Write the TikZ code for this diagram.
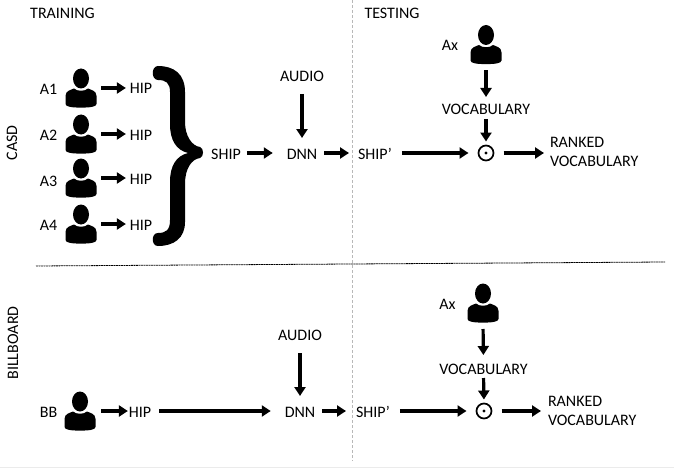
\documentclass[tikz,border=0pt]{standalone}
\usepackage{fontspec}
\setmainfont{Carlito}
\usetikzlibrary{arrows.meta}
\tikzset{
  lbl/.style={inner sep=0pt,outer sep=0pt,text height=12pt,text depth=0pt,font=\fontsize{16pt}{18pt}\selectfont},
  ranked/.style={inner sep=0pt,outer sep=0pt,align=left,anchor=west,font=\fontsize{16pt}{19pt}\selectfont},
  arr/.style={line width=3.2pt,-{Triangle[length=9pt,width=11pt]}},
  odot/.style={circle,draw,line width=1.7pt,minimum size=15pt,inner sep=0pt,outer sep=0pt,
     path picture={\fill (path picture bounding box.center) circle (1.7pt);}},
  person/.style={minimum width=32pt,minimum height=40pt,inner sep=0pt,outer sep=0pt,
    path picture={
      \begin{scope}[shift={(path picture bounding box.center)}]
        \fill (0pt,9.5pt) ellipse [x radius=8pt,y radius=10pt];
        \fill (-15.5pt,-8pt) .. controls (-15.5pt,-2.5pt) and (-10pt,-2pt) .. (-7pt,-0.5pt)
          .. controls (-4pt,-3.5pt) and (4pt,-3.5pt) .. (7pt,-0.5pt)
          .. controls (10pt,-2pt) and (15.5pt,-2.5pt) .. (15.5pt,-8pt)
          -- (15.5pt,-16pt) .. controls (15.5pt,-19pt) and (8pt,-19.6pt) .. (0pt,-19.6pt)
          .. controls (-8pt,-19.6pt) and (-15.5pt,-19pt) .. (-15.5pt,-16pt) -- cycle;
      \end{scope}}},
}
\begin{document}
\begin{tikzpicture}[x=1pt,y=-1pt]
\useasboundingbox (0,0) rectangle (674,468);
\fill[white] (0,0) rectangle (674,468);
\fill[black!8] (0,466.5) rectangle (674,468);
% dividers
\coordinate (vt) at (352,0); \coordinate (vb) at (352,461);
\coordinate (hl) at (36,266); \coordinate (hr) at (665,262);
\draw[black!28,densely dashed,line width=0.6pt] (vt) -- (vb);
\draw[black,line width=0.8pt,dash pattern=on 1.8pt off 0.7pt] (hl) -- (hr);
% headings
\node[lbl] (train) at (62.5,13) {TRAINING};
\node[lbl] (test) at (392,13) {TESTING};
\node[lbl,rotate=90] (casd) at (11,143) {CASD};
\node[lbl,rotate=90] (bill) at (12,343) {BILLBOARD};
% CASD training
\foreach \i/\py/\ly in {1/88/89,2/134/134,3/178/180,4/224/224}{
  \node[lbl] (a\i) at (48.5,\ly) {A\i};
  \node[person] (p\i) at (81,\py) {};
  \node[lbl] (h\i) at (141,\py) {HIP};
  \draw[arr,shorten <=4pt,shorten >=4pt] (p\i.east) -- (h\i.west);
}
% brace
\node[inner sep=0pt,outer sep=0pt,minimum size=0pt] (brace) at (203,153) {};
\fill (158,66) .. controls (174,66) and (185,74) .. (185,92) -- (185,122)
  .. controls (185,136) and (192,146) .. (200,147) .. controls (204,148) and (204,157) .. (200,158)
  .. controls (192,159) and (185,168) .. (185,184) -- (185,222)
  .. controls (185,238) and (174,246) .. (158,246) .. controls (151,246) and (151,233) .. (158,233)
  .. controls (166,233) and (170,230) .. (170,220) -- (170,182)
  .. controls (170,166) and (176,156) .. (188,153) .. controls (176,150) and (170,140) .. (170,124)
  -- (170,92) .. controls (170,83) and (166,80) .. (158,80) .. controls (151,80) and (151,66) .. (158,66) -- cycle;
\node[lbl] (ship) at (226,153) {SHIP};
\node[lbl] (dnn) at (302,153) {DNN};
\node[lbl] (audio) at (302,76) {AUDIO};
\node[lbl] (shipp) at (375,153) {SHIP’};
\node[odot] (dot) at (486,153) {};
\node[lbl] (vocab) at (486,109) {VOCABULARY};
\node[person] (px) at (486,44.5) {};
\node[lbl] (ax) at (450,45) {Ax};
\node[ranked] (rank) at (550,151.5) {RANKED\\VOCABULARY};
\draw[arr,shorten <=6pt,shorten >=14pt] (ship.east) -- (dnn.west);
\draw[arr,shorten <=7pt,shorten >=9pt] (dnn.east) -- (shipp.west);
\draw[arr,shorten <=10pt,shorten >=10pt] (shipp.east) -- (dot.west);
\draw[arr,shorten <=10pt,shorten >=6pt] (dot.east) -- (dot.east -| rank.west);
\draw[arr,shorten <=12pt,shorten >=9pt] (audio.south) -- (dnn.north);
\draw[arr,shorten <=6pt,shorten >=6pt] (px.south) -- (vocab.north);
\draw[arr,shorten <=4pt,shorten >=4pt] (vocab.south) -- (dot.north);
% Billboard
\node[lbl] (bb) at (48.5,411) {BB};
\node[person] (pb) at (80,411) {};
\node[lbl] (hb) at (140,411) {HIP};
\node[lbl] (dnnb) at (300,411) {DNN};
\node[lbl] (audiob) at (300,334) {AUDIO};
\node[lbl] (shipb) at (373,411) {SHIP’};
\node[odot] (dotb) at (484,411) {};
\node[lbl] (vocabb) at (483.5,368) {VOCABULARY};
\node[person] (pxb) at (483,303) {};
\node[lbl] (axb) at (447.5,303) {Ax};
\node[ranked] (rankb) at (548,410.5) {RANKED\\VOCABULARY};
\draw[arr,shorten <=5pt,shorten >=1pt] (pb.east) -- (hb.west);
\draw[arr,shorten <=8pt,shorten >=14pt] (hb.east) -- (dnnb.west);
\draw[arr,shorten <=7pt,shorten >=10pt] (dnnb.east) -- (shipb.west);
\draw[arr,shorten <=10pt,shorten >=10pt] (shipb.east) -- (dotb.west);
\draw[arr,shorten <=10pt,shorten >=7pt] (dotb.east) -- (dotb.east -| rankb.west);
\draw[arr,shorten <=13pt,shorten >=9pt] (audiob.south) -- (dnnb.north);
\draw[arr,shorten <=6pt,shorten >=7pt] (pxb.south) -- (vocabb.north);
\draw[arr,shorten <=4pt,shorten >=4pt] (vocabb.south) -- (dotb.north);
\end{tikzpicture}
\end{document}
